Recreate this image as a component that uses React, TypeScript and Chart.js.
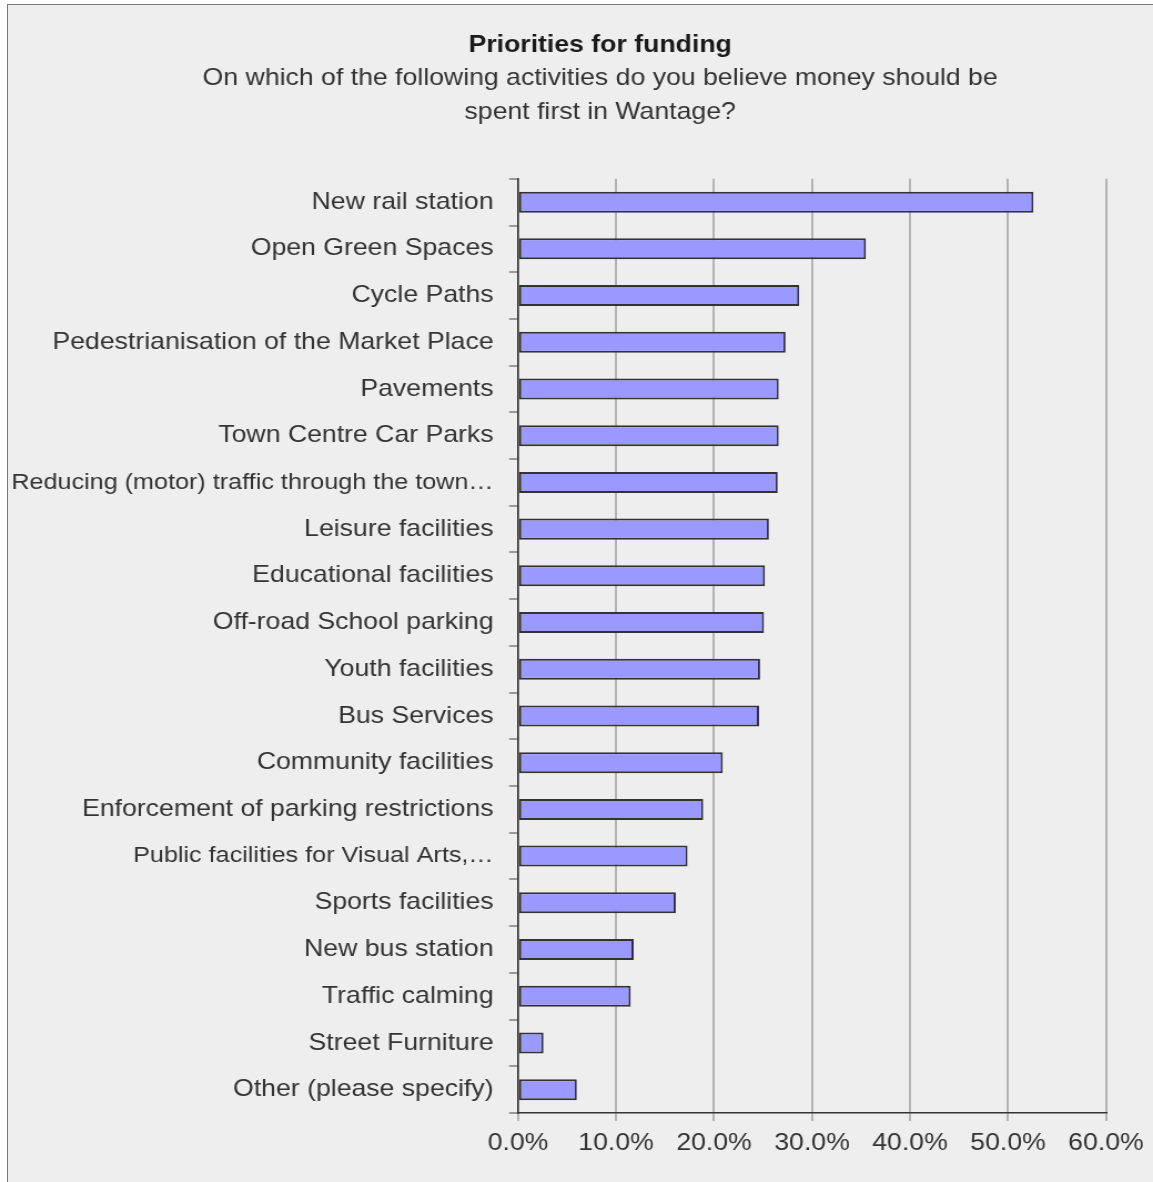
import React, { useEffect, useRef } from "react";
import { Chart, registerables } from "chart.js";

Chart.register(...registerables);

const titleText = "Priorities for funding";
const subtitleLines = [
  "On which of the following activities do you believe money should be",
  "spent first in Wantage?",
];

const categories = [
  "New rail station",
  "Open Green Spaces",
  "Cycle Paths",
  "Pedestrianisation of the Market Place",
  "Pavements",
  "Town Centre Car Parks",
  "Reducing (motor) traffic through the town…",
  "Leisure facilities",
  "Educational facilities",
  "Off-road School parking",
  "Youth facilities",
  "Bus Services",
  "Community facilities",
  "Enforcement of parking restrictions",
  "Public facilities for Visual Arts,…",
  "Sports facilities",
  "New bus station",
  "Traffic calming",
  "Street Furniture",
  "Other (please specify)",
];

const values = [
  52.6, 35.5, 28.7, 27.3, 26.6, 26.6, 26.5, 25.6, 25.2, 25.1, 24.7, 24.6,
  20.9, 18.9, 17.3, 16.1, 11.8, 11.5, 2.6, 6.0,
];

const xMin = 0;
const xMax = 60;
const xStep = 10;

const FONT = "'Liberation Sans', Arial, sans-serif";
const PAGE_W = 1153;
const PAGE_H = 1182;
const STRETCH = 1.11;
const CANVAS_W = Math.round(PAGE_W / STRETCH);
const SX = PAGE_W / CANVAS_W;
const TITLE_SHIFT = 85;

const titleShiftPlugin = {
  id: "titleShift",
  afterLayout(chart: any) {
    for (const box of chart.boxes) {
      if (box && box.options && box.options.text !== undefined && box._padding !== undefined) {
        box.left = TITLE_SHIFT;
        box.width = box.right - box.left;
      }
    }
  },
};

export default function App() {
  const canvasRef = useRef<HTMLCanvasElement | null>(null);

  useEffect(() => {
    const canvas = canvasRef.current;
    if (!canvas) return;
    const chart = new Chart(canvas, {
      type: "bar",
      data: {
        labels: categories,
        datasets: [
          {
            data: values,
            backgroundColor: "#9999ff",
            borderColor: "#333333",
            borderWidth: 2,
            borderSkipped: false,
            barPercentage: 0.45,
            categoryPercentage: 1,
          },
        ],
      },
      plugins: [titleShiftPlugin],
      options: {
        indexAxis: "y",
        animation: false,
        responsive: false,
        maintainAspectRatio: false,
        devicePixelRatio: 1,
        layout: { padding: { left: 0, right: 47 / SX, top: 0, bottom: 0 } },
        plugins: {
          legend: { display: false },
          tooltip: { enabled: false },
          title: {
            display: true,
            text: titleText,
            color: "#1a1a1a",
            font: { family: FONT, size: 24, weight: "bold", lineHeight: 1.2 },
            padding: { top: 31, bottom: 0 },
          },
          subtitle: {
            display: true,
            text: subtitleLines,
            color: "#333333",
            font: { family: FONT, size: 24, weight: "normal", lineHeight: 34 / 24 },
            padding: { top: 2, bottom: 49 },
          },
        },
        scales: {
          x: {
            type: "linear",
            min: xMin,
            max: xMax,
            ticks: {
              stepSize: xStep,
              color: "#333333",
              font: { family: FONT, size: 24 },
              padding: 8,
              callback: (v: any) => Number(v).toFixed(1) + "%",
            },
            grid: {
              color: "#b3b3b3",
              lineWidth: 2,
              tickLength: 8,
              drawTicks: true,
            },
            border: { display: true, color: "#333333", width: 1.5 },
            afterFit: (scale: any) => {
              scale.height = 69;
            },
          },
          y: {
            type: "category",
            offset: true,
            ticks: {
              color: "#333333",
              font: (ctx: any) => {
                const label = categories[ctx.index] || "";
                return { family: FONT, size: label.endsWith("…") ? 22.7 : 24 };
              },
              padding: 14,
              autoSkip: false,
            },
            grid: {
              offset: true,
              drawOnChartArea: false,
              drawTicks: true,
              tickLength: 8,
              color: "#999999",
              lineWidth: 2,
            },
            border: { display: true, color: "#333333", width: 1.5 },
            afterFit: (scale: any) => {
              scale.width = 518 / SX;
            },
          },
        },
      },
    });
    return () => chart.destroy();
  }, []);

  return (
    <div
      style={{
        position: "absolute",
        left: 0,
        top: 0,
        width: PAGE_W,
        height: PAGE_H,
        background: "#ffffff",
        overflow: "hidden",
      }}
    >
      <div
        style={{
          position: "absolute",
          left: 7,
          top: 4,
          width: 1200,
          height: 1200,
          background: "#eeeeee",
          borderLeft: "1px solid #777777",
          borderTop: "1px solid #777777",
        }}
      />
      <canvas
        ref={canvasRef}
        width={CANVAS_W}
        height={PAGE_H}
        style={{ position: "absolute", left: 0, top: 0, width: PAGE_W, height: PAGE_H }}
      />
    </div>
  );
}
